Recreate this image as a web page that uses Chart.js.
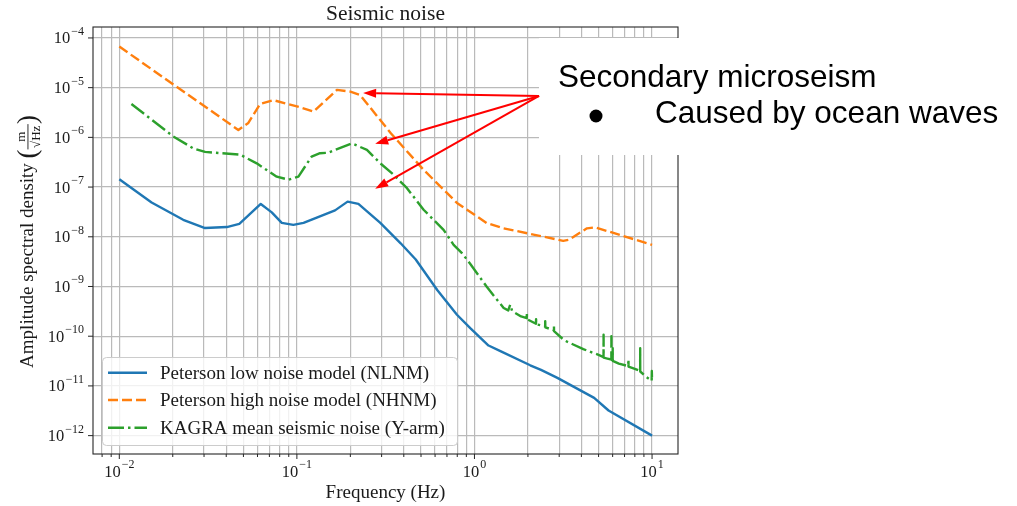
<!DOCTYPE html>
<html>
<head>
<meta charset="utf-8">
<script src="https://cdn.jsdelivr.net/npm/chart.js@4.4.1/dist/chart.umd.min.js"></script>
<style>
  html, body { margin: 0; padding: 0; background: #fff; }
  #wrap { width: 1017px; height: 506px; position: relative; }
</style>
</head>
<body>
<div id="wrap"><canvas id="chart"></canvas></div>
<script>
// Peterson low noise model (Hz, m/sqrt(Hz))
const nlnmFreq = [0.01, 0.0152, 0.0229, 0.0304, 0.0403, 0.0474, 0.0626, 0.0722, 0.0822, 0.0955, 0.109, 0.164, 0.193, 0.222, 0.295, 0.384, 0.467, 0.617, 0.797, 0.947, 1.2, 1.4, 2.06, 2.37, 2.93, 4.72, 5.69, 10];
const nlnmAsd = [1.44e-7, 4.9e-8, 2.2e-8, 1.5e-8, 1.57e-8, 1.82e-8, 4.57e-8, 3.1e-8, 1.9e-8, 1.74e-8, 1.9e-8, 3.4e-8, 5.1e-8, 4.6e-8, 1.9e-8, 7.4e-9, 3.5e-9, 8.5e-10, 2.7e-10, 1.45e-10, 6.5e-11, 5.0e-11, 2.6e-11, 2.1e-11, 1.45e-11, 5.75e-12, 3.2e-12, 1.0e-12];

// Peterson high noise model
const nhnmFreq = [0.01, 0.0468, 0.0533, 0.062, 0.0738, 0.1, 0.124, 0.168, 0.2, 0.227, 0.339, 0.516, 0.797, 1.17, 1.46, 3.16, 3.4, 4.3, 4.78, 10];
const nhnmAsd = [6.7e-5, 1.41e-6, 1.95e-6, 4.7e-6, 5.6e-6, 4.2e-6, 3.3e-6, 9.0e-6, 8.3e-6, 7.1e-6, 1.2e-6, 2.24e-7, 4.8e-8, 1.9e-8, 1.48e-8, 8.3e-9, 8.7e-9, 1.48e-8, 1.55e-8, 6.9e-9];

// KAGRA mean seismic noise (Y-arm), including the narrow lines above 1.5 Hz
const kagraFreq = [0.0117, 0.0201, 0.0261, 0.0304, 0.0479, 0.0594, 0.077, 0.0896, 0.102, 0.121, 0.135, 0.15, 0.204, 0.248, 0.295, 0.35, 0.417, 0.517, 0.67, 0.763, 0.85, 0.95, 1.17, 1.34, 1.46, 1.55, 1.59, 1.63, 1.83, 1.97, 1.972, 1.975, 2.22, 2.223, 2.226, 2.5, 2.503, 2.506, 2.8, 2.803, 2.806, 3.2, 3.6, 4.1, 4.67, 5.0, 5.33, 5.334, 5.338, 5.6, 5.9, 5.904, 5.908, 6.0, 6.004, 6.008, 6.5, 7.36, 7.365, 7.37, 8.0, 8.57, 8.575, 8.58, 9.3, 9.8, 9.95, 9.97, 10];
const kagraAsd = [4.7e-6, 1.05e-6, 6.0e-7, 5.1e-7, 4.5e-7, 3.0e-7, 1.62e-7, 1.41e-7, 1.62e-7, 4.1e-7, 4.8e-7, 4.9e-7, 7.6e-7, 5.6e-7, 3.0e-7, 1.78e-7, 9.5e-8, 3.5e-8, 1.38e-8, 6.9e-9, 4.7e-9, 2.8e-9, 1.0e-9, 5.4e-10, 3.7e-10, 3.3e-10, 4.3e-10, 3.2e-10, 2.5e-10, 2.3e-10, 3.0e-10, 2.2e-10, 1.78e-10, 2.2e-10, 1.74e-10, 1.58e-10, 2.0e-10, 1.51e-10, 1.32e-10, 1.62e-10, 1.26e-10, 8.3e-11, 6.8e-11, 5.5e-11, 4.6e-11, 4.2e-11, 3.8e-11, 1.07e-10, 3.7e-11, 3.55e-11, 3.4e-11, 1.0e-10, 3.4e-11, 3.25e-11, 5.75e-11, 3.2e-11, 2.8e-11, 2.5e-11, 3.4e-11, 2.45e-11, 2.2e-11, 2.0e-11, 5.75e-11, 1.95e-11, 1.5e-11, 1.32e-11, 1.26e-11, 2.0e-11, 1.26e-11];

const seriesLabels = ['Peterson low noise model (NLNM)', 'Peterson high noise model (NHNM)', 'KAGRA mean seismic noise (Y-arm)'];

// axis ranges and decade ticks
const xRange = [0.00711, 14.0];
const yRange = [4.27e-13, 1.66e-4];
const xDecades = [-2, -1, 0, 1];
const yDecades = [-12, -11, -10, -9, -8, -7, -6, -5, -4];

// annotation: arrow tail and heads (data coordinates)
const arrowTail = { x: 2.31, y: 6.82e-6 };
const arrowHeads = [{ x: 0.236, y: 7.83e-6 }, { x: 0.276, y: 7.41e-7 }, { x: 0.276, y: 9.23e-8 }];
const noteTitle = 'Secondary microseism';
const noteBullet = 'Caused by ocean waves';

const SERIF = '"Liberation Serif", "DejaVu Serif", serif';
const SANS = '"Liberation Sans", Arial, sans-serif';
const INK = '#1a1a1a';

const toPoints = (fs, as) => fs.map((f, i) => ({ x: f, y: as[i] }));

// grid values: every integer multiple inside the range
function gridValues(decades, lo, hi, withMinor) {
  const out = [];
  for (const d of [decades[0] - 1, ...decades]) {
    for (let k = 1; k < 10; k++) {
      if (!withMinor && k > 1) continue;
      const v = k * Math.pow(10, d);
      if (v >= lo && v <= hi) out.push(v);
    }
  }
  return out;
}

function drawPow(ctx, exp, x, yc, align) {
  const base = '10';
  const sup = exp < 0 ? '\u2212' + Math.abs(exp) : String(exp);
  ctx.font = '16.5px ' + SERIF;
  const wb = ctx.measureText(base).width;
  ctx.font = '12px ' + SERIF;
  const ws = ctx.measureText(sup).width;
  const total = wb + 1 + ws;
  const x0 = align === 'right' ? x - total : x - total / 2;
  ctx.textAlign = 'left';
  ctx.textBaseline = 'alphabetic';
  ctx.font = '16.5px ' + SERIF;
  ctx.fillText(base, x0, yc + 5.5);
  ctx.font = '12px ' + SERIF;
  ctx.fillText(sup, x0 + wb + 1, yc - 3);
}

function arrow(ctx, x0, y0, x1, y1) {
  const ang = Math.atan2(y1 - y0, x1 - x0);
  const len = 13, half = 4.5;
  const bx = x1 - len * Math.cos(ang), by = y1 - len * Math.sin(ang);
  ctx.beginPath();
  ctx.moveTo(x0, y0);
  ctx.lineTo(bx, by);
  ctx.stroke();
  ctx.beginPath();
  ctx.moveTo(x1, y1);
  ctx.lineTo(bx + half * Math.sin(ang), by - half * Math.cos(ang));
  ctx.lineTo(bx - half * Math.sin(ang), by + half * Math.cos(ang));
  ctx.closePath();
  ctx.fill();
}

const decor = {
  id: 'decor',
  beforeDraw(chart) {
    const ctx = chart.ctx;
    ctx.save();
    ctx.fillStyle = '#fff';
    ctx.fillRect(0, 0, chart.width, chart.height);
    ctx.restore();
  },
  afterDraw(chart) {
    const ctx = chart.ctx;
    const ca = chart.chartArea;
    const xs = chart.scales.x, ys = chart.scales.y;
    ctx.save();

    // frame
    ctx.strokeStyle = '#262626';
    ctx.lineWidth = 1.1;
    ctx.strokeRect(ca.left, ca.top, ca.right - ca.left, ca.bottom - ca.top);

    // tick marks
    ctx.lineWidth = 1;
    ctx.beginPath();
    gridValues(xDecades, xRange[0], xRange[1], true).forEach(v => {
      const px = xs.getPixelForValue(v);
      const major = Math.abs(Math.log10(v) - Math.round(Math.log10(v))) < 1e-9;
      ctx.moveTo(px, ca.bottom);
      ctx.lineTo(px, ca.bottom + (major ? 5 : 3));
    });
    yDecades.forEach(d => {
      const py = ys.getPixelForValue(Math.pow(10, d));
      ctx.moveTo(ca.left, py);
      ctx.lineTo(ca.left - 5, py);
    });
    ctx.stroke();

    // tick labels
    ctx.fillStyle = INK;
    xDecades.forEach(d => drawPow(ctx, d, xs.getPixelForValue(Math.pow(10, d)), 471, 'center'));
    yDecades.forEach(d => drawPow(ctx, d, 84, ys.getPixelForValue(Math.pow(10, d)), 'right'));

    // title and axis titles
    const cx = (ca.left + ca.right) / 2;
    ctx.textAlign = 'center';
    ctx.textBaseline = 'alphabetic';
    ctx.font = '21.5px ' + SERIF;
    ctx.fillText('Seismic noise', cx, 20);
    ctx.font = '19px ' + SERIF;
    ctx.fillText('Frequency (Hz)', cx, 498);

    ctx.save();
    ctx.translate(33, (ca.top + ca.bottom) / 2 + 1);
    ctx.rotate(-Math.PI / 2);
    const main = 'Amplitude spectral density ';
    ctx.font = '19px ' + SERIF;
    const wMain = ctx.measureText(main).width;
    ctx.font = '13px ' + SERIF;
    const wFrac = Math.max(ctx.measureText('m').width, ctx.measureText('\u221AHz').width) + 3;
    ctx.font = '27px ' + SERIF;
    const wParen = ctx.measureText('(').width;
    let tx = -(wMain + 2 * wParen + wFrac) / 2;
    ctx.textAlign = 'left';
    ctx.font = '19px ' + SERIF;
    ctx.fillText(main, tx, 0);
    tx += wMain;
    ctx.font = '27px ' + SERIF;
    ctx.fillText('(', tx, 3);
    tx += wParen;
    ctx.fillRect(tx, -5.5, wFrac, 0.9);
    ctx.textAlign = 'center';
    ctx.font = '13px ' + SERIF;
    ctx.fillText('m', tx + wFrac / 2, -8);
    ctx.fillText('\u221AHz', tx + wFrac / 2, 6.5);
    tx += wFrac;
    ctx.textAlign = 'left';
    ctx.font = '27px ' + SERIF;
    ctx.fillText(')', tx, 3);
    ctx.restore();

    // legend box
    const lx = 102.5, ly = 357.5, lw = 355, lh = 88;
    ctx.beginPath();
    ctx.roundRect(lx, ly, lw, lh, 4);
    ctx.fillStyle = 'rgba(255,255,255,0.8)';
    ctx.fill();
    ctx.strokeStyle = '#cccccc';
    ctx.lineWidth = 1;
    ctx.stroke();
    const rows = [372.7, 400, 427.7];
    chart.data.datasets.forEach((ds, i) => {
      const ry = rows[i];
      ctx.strokeStyle = ds.borderColor;
      ctx.lineWidth = ds.borderWidth;
      ctx.setLineDash(ds.borderDash || []);
      ctx.beginPath();
      ctx.moveTo(108, ry);
      ctx.lineTo(147, ry);
      ctx.stroke();
      ctx.setLineDash([]);
      ctx.fillStyle = INK;
      ctx.font = '19px ' + SERIF;
      ctx.textAlign = 'left';
      ctx.textBaseline = 'alphabetic';
      ctx.fillText(ds.label, 160, ry + 6);
    });

    // slide annotation: white panel, text and arrows
    ctx.fillStyle = '#fff';
    ctx.fillRect(539, 38, chart.width - 539, 117);
    ctx.fillStyle = '#000';
    ctx.font = '31.5px ' + SANS;
    ctx.textAlign = 'left';
    ctx.fillText(noteTitle, 558, 87);
    ctx.fillText(noteBullet, 655, 123);
    ctx.beginPath();
    ctx.arc(596, 116, 6.5, 0, Math.PI * 2);
    ctx.fill();

    ctx.strokeStyle = '#ff0000';
    ctx.fillStyle = '#ff0000';
    ctx.lineWidth = 2;
    const tx0 = xs.getPixelForValue(arrowTail.x), ty0 = ys.getPixelForValue(arrowTail.y);
    arrowHeads.forEach(h => arrow(ctx, tx0, ty0, xs.getPixelForValue(h.x), ys.getPixelForValue(h.y)));

    ctx.restore();
  }
};

const xGrid = gridValues(xDecades, xRange[0], xRange[1], true);
const yGrid = gridValues(yDecades, yRange[0], yRange[1], false);

new Chart(document.getElementById('chart'), {
  type: 'line',
  data: {
    datasets: [
      { label: seriesLabels[0], data: toPoints(nlnmFreq, nlnmAsd), borderColor: '#1f77b4', borderWidth: 2.4, order: 3 },
      { label: seriesLabels[1], data: toPoints(nhnmFreq, nhnmAsd), borderColor: '#ff7f0e', borderWidth: 2.4, borderDash: [10, 4], order: 2 },
      { label: seriesLabels[2], data: toPoints(kagraFreq, kagraAsd), borderColor: '#2ca02c', borderWidth: 2.4, borderDash: [16, 4, 2.5, 4], order: 1 }
    ]
  },
  options: {
    responsive: true,
    maintainAspectRatio: false,
    animation: false,
    devicePixelRatio: 1,
    events: [],
    elements: {
      point: { radius: 0 },
      line: { tension: 0, borderJoinStyle: 'round', fill: false }
    },
    layout: { padding: { left: 0, right: 339, top: 27, bottom: 0 } },
    plugins: { legend: { display: false }, title: { display: false }, tooltip: { enabled: false } },
    scales: {
      x: {
        type: 'logarithmic', min: xRange[0], max: xRange[1],
        border: { display: false },
        grid: { color: '#bababa', lineWidth: 1.2, drawTicks: false },
        ticks: { display: false },
        afterBuildTicks: s => { s.ticks = xGrid.map(v => ({ value: v })); },
        afterFit: s => { s.height = 52; }
      },
      y: {
        type: 'logarithmic', min: yRange[0], max: yRange[1],
        border: { display: false },
        grid: { color: '#bababa', lineWidth: 1.2, drawTicks: false },
        ticks: { display: false },
        afterBuildTicks: s => { s.ticks = yGrid.map(v => ({ value: v })); },
        afterFit: s => { s.width = 93; }
      }
    }
  },
  plugins: [decor]
});
</script>
</body>
</html>
